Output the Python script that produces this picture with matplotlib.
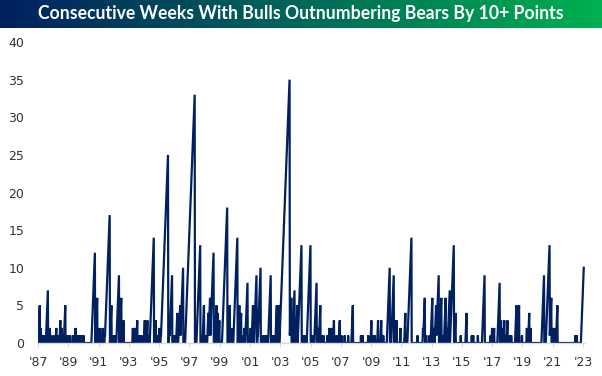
import matplotlib.pyplot as plt
import numpy as np
from matplotlib.colors import LinearSegmentedColormap

# streaks of weeks with bulls > bears by 10+ pts: (week the streak peaked, streak length)
peak_dates = [
    1987.00, 1987.12, 1987.20, 1987.28, 1987.36, 1987.45, 1987.66, 1987.78, 1987.88,
    1988.05, 1988.20, 1988.30, 1988.48, 1988.58, 1988.80, 1988.92, 1989.02, 1989.12,
    1989.32, 1989.47, 1989.58, 1989.68, 1989.80, 1989.90, 1990.00,
    1990.75, 1990.90, 1991.00, 1991.08, 1991.18, 1991.28, 1991.40, 1991.50,
    1991.73, 1991.85, 1991.95, 1992.07, 1992.35, 1992.50, 1992.66,
    1993.27, 1993.40, 1993.56, 1993.70, 1993.85, 1994.05, 1994.22, 1994.35,
    1994.64, 1994.78, 1994.90, 1995.02, 1995.10,
    1995.59, 1995.72, 1995.85, 1995.95, 1996.05, 1996.20, 1996.30, 1996.47, 1996.58, 1996.68,
    1997.35, 1997.72, 1997.96, 1998.10, 1998.28, 1998.40, 1998.60, 1998.78, 1998.88, 1998.98,
    1999.49, 1999.66, 1999.80, 1999.99, 2000.17, 2000.30, 2000.42, 2000.55, 2000.65,
    2000.83, 2000.95, 2001.05, 2001.20, 2001.43, 2001.52, 2001.69, 2001.80, 2001.90,
    2002.00, 2002.10, 2002.37, 2002.48, 2002.60, 2002.78, 2002.90,
    2003.62, 2003.73, 2003.95, 2004.13, 2004.40, 2004.50, 2004.58, 2004.70,
    2004.99, 2005.10, 2005.20, 2005.39, 2005.50, 2005.65, 2005.75, 2005.85,
    2006.10, 2006.25, 2006.40, 2006.55, 2006.65, 2006.80, 2006.93, 2007.05, 2007.25, 2007.48, 2007.80,
    2008.33, 2008.45, 2008.80, 2009.02, 2009.15, 2009.25, 2009.46, 2009.68, 2009.80,
    2010.23, 2010.49, 2010.58, 2010.68, 2010.93, 2011.26, 2011.66,
    2012.06, 2012.45, 2012.54, 2012.65, 2012.85, 2013.05, 2013.18, 2013.30, 2013.47,
    2013.64, 2013.75, 2013.93, 2014.03, 2014.20, 2014.30, 2014.46, 2014.57, 2014.92,
    2015.30, 2015.65, 2015.75, 2016.05, 2016.50, 2016.90, 2017.00, 2017.12,
    2017.50, 2017.58, 2017.70, 2017.80, 2017.90, 2018.00, 2018.10, 2018.25,
    2018.60, 2018.77, 2018.97, 2019.30, 2019.44, 2019.55,
    2020.42, 2020.79, 2020.90, 2021.02, 2021.10, 2021.30, 2022.50, 2022.58, 2023.05,
]
streak_len = [
    4, 5, 2, 1, 1, 1, 7, 2, 1,
    1, 2, 1, 3, 2, 5, 1, 1, 1,
    1, 2, 1, 1, 1, 1, 1,
    12, 6, 1, 2, 1, 2, 1, 1,
    17, 5, 1, 1, 9, 6, 3,
    2, 2, 3, 1, 1, 3, 3, 1,
    14, 3, 1, 2, 1,
    25, 4, 9, 1, 1, 4, 2, 9, 10, 1,
    33, 13, 5, 1, 6, 8, 12, 5, 4, 3,
    18, 5, 2, 5, 14, 5, 4, 1, 2,
    8, 1, 2, 5, 9, 2, 10, 1, 1,
    1, 1, 9, 1, 1, 5, 5,
    35, 6, 7, 5, 13, 1, 1, 1,
    13, 1, 1, 8, 2, 5, 1, 1,
    1, 2, 2, 3, 1, 1, 3, 1, 1, 1, 5,
    1, 1, 1, 3, 1, 1, 3, 3, 1,
    10, 9, 3, 3, 2, 4, 14,
    1, 3, 6, 1, 1, 6, 2, 5, 9,
    6, 1, 6, 2, 7, 4, 13, 4, 1,
    4, 1, 1, 1, 9, 1, 2, 2,
    8, 3, 2, 3, 1, 3, 1, 1,
    5, 5, 1, 2, 4, 2,
    9, 13, 6, 2, 2, 5, 1, 1, 10,
]
tick_years = list(range(1987, 2024, 2))
tick_labels = ["'" + str(y)[2:] for y in tick_years]

# build the weekly series
wk = 52.18
n_weeks = int(round((peak_dates[-1] - 1987.0) * wk)) + 1
t = 1987.0 + np.arange(n_weeks) / wk
vals = np.zeros(n_weeks)
for pk, n in zip(peak_dates, streak_len):
    p = int(round((pk - 1987.0) * wk))
    for k in range(n):
        i = p - k
        if 0 <= i < n_weeks:
            vals[i] = n - k

navy = '#002060'
fig = plt.figure(figsize=(6.02, 3.76), dpi=100)

# title banner with gradient
bax = fig.add_axes([0, 1 - 28 / 376, 1, 28 / 376])
cmap = LinearSegmentedColormap.from_list('b', [navy, '#00B050'])
bax.imshow(np.linspace(0, 1, 256)[None, :], aspect='auto', cmap=cmap, extent=[0, 1, 0, 1])
bax.set_axis_off()
bax.text(0.5, 0.5, 'Consecutive Weeks With Bulls Outnumbering Bears By 10+ Points',
         color='white', fontsize=12.7, fontweight='bold', family='Lato',
         ha='center', va='center')

ax = fig.add_axes([38 / 602, 33 / 376, (585 - 38) / 602, 301 / 376])
ax.plot(t, vals, color=navy, lw=1.6, solid_joinstyle='miter')
ax.set_xlim(1987.0, 1987.0 + (585 - 38) / 15.14)
ax.set_ylim(0, 40)
ax.set_yticks(range(0, 41, 5))
ax.set_xticks(tick_years)
ax.set_xticklabels(tick_labels)
for s in ['top', 'right', 'left']:
    ax.spines[s].set_visible(False)
ax.spines['bottom'].set_color('#d9d9d9')
ax.spines['bottom'].set_linewidth(1)
ax.tick_params(axis='y', length=0, pad=10, labelsize=9, labelcolor='#333333')
ax.tick_params(axis='x', length=3, color='#d9d9d9', pad=6, labelsize=9, labelcolor='#333333')

fig.savefig('out.png', dpi=100)
